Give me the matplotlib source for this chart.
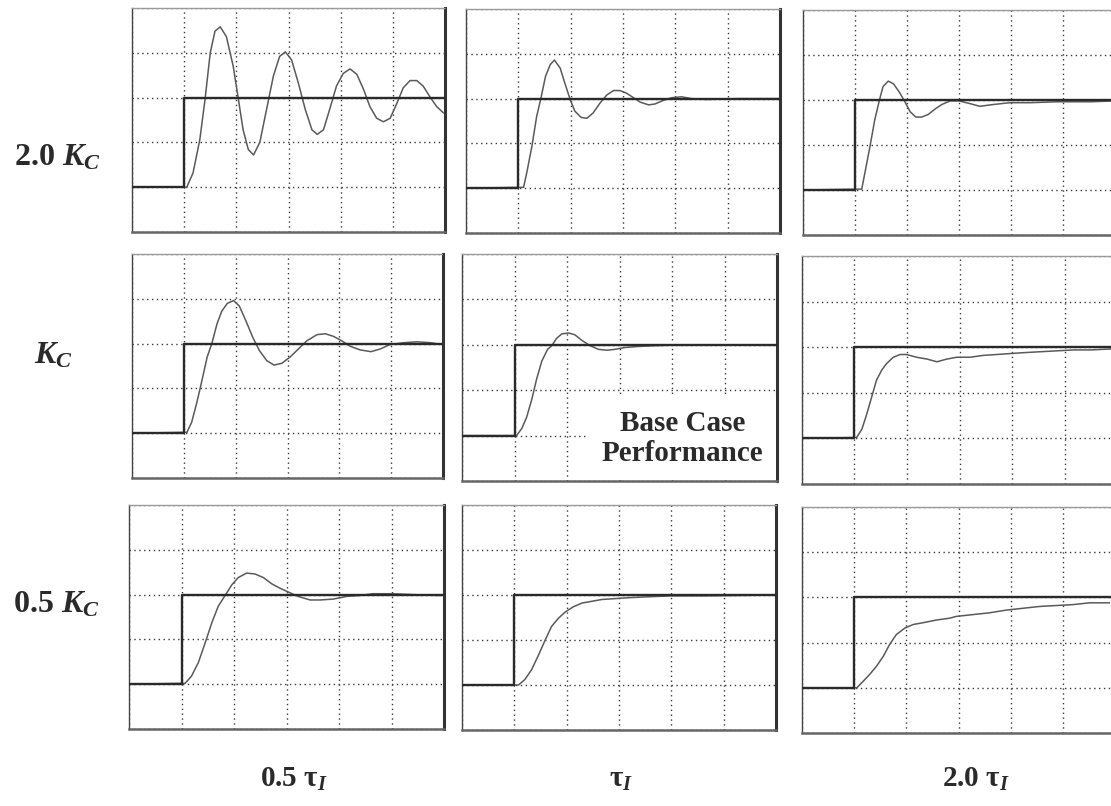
import matplotlib
matplotlib.use("Agg")
import matplotlib.pyplot as plt

plt.rcParams['mathtext.fontset'] = 'custom'
plt.rcParams['mathtext.rm'] = 'Liberation Serif:bold'
plt.rcParams['mathtext.it'] = 'Liberation Serif:italic:bold'
plt.rcParams['mathtext.bf'] = 'Liberation Serif:bold'

# ---------------- data (time in grid divisions, response normalised: 0 = start, 1 = set point)
setpoint_t = [0, 1, 1, 6]
setpoint_y = [0, 0, 1, 1]

row_labels = [r'$2.0\ K_C$', r'$K_C$', r'$0.5\ K_C$']
col_labels = [r'$0.5\ \mathrm{\tau}_I$', r'$\mathrm{\tau}_I$', r'$2.0\ \mathrm{\tau}_I$']

# 2.0 Kc
t_2kc_05ti = [0, 1.05, 1.17, 1.30, 1.40, 1.50, 1.59, 1.69, 1.81, 1.94, 2.04, 2.13, 2.23, 2.33, 2.45,
              2.58, 2.71, 2.83, 2.94, 3.06, 3.19, 3.32, 3.45, 3.55, 3.67, 3.79, 3.92, 4.05, 4.18, 4.31,
              4.44, 4.56, 4.69, 4.82, 4.95, 5.08, 5.20, 5.33, 5.46, 5.58, 5.71, 5.84, 5.97]
y_2kc_05ti = [0, 0.0, 0.16, 0.53, 0.98, 1.50, 1.74, 1.79, 1.68, 1.35, 0.98, 0.64, 0.42, 0.36, 0.50,
              0.87, 1.24, 1.46, 1.51, 1.42, 1.16, 0.87, 0.64, 0.59, 0.64, 0.87, 1.13, 1.27, 1.32, 1.26,
              1.09, 0.90, 0.77, 0.73, 0.77, 0.94, 1.11, 1.19, 1.19, 1.13, 1.01, 0.90, 0.83]
t_2kc_1ti = [0, 1.10, 1.16, 1.26, 1.35, 1.43, 1.52, 1.61, 1.69, 1.80, 1.89, 1.99, 2.08, 2.20, 2.31,
             2.43, 2.56, 2.69, 2.82, 2.94, 3.07, 3.20, 3.33, 3.49, 3.61, 3.77, 3.93, 4.12, 4.31, 4.6,
             5.2, 6.0]
y_2kc_1ti = [0, 0.01, 0.17, 0.47, 0.80, 1.0, 1.25, 1.38, 1.43, 1.34, 1.17, 0.99, 0.86, 0.79, 0.78,
             0.84, 0.95, 1.04, 1.09, 1.09, 1.06, 1.01, 0.96, 0.93, 0.94, 0.98, 1.01, 1.02, 1.0, 0.99,
             1.0, 1.0]
t_2kc_2ti = [0, 1.13, 1.19, 1.29, 1.38, 1.47, 1.54, 1.64, 1.74, 1.85, 1.96, 2.06, 2.17, 2.28, 2.41,
             2.54, 2.67, 2.83, 3.0, 3.21, 3.40, 3.66, 3.98, 4.37, 4.88, 5.52, 6.0]
y_2kc_2ti = [0, 0.01, 0.19, 0.49, 0.78, 1.0, 1.15, 1.21, 1.18, 1.09, 0.98, 0.87, 0.81, 0.81, 0.84,
             0.90, 0.95, 0.99, 0.99, 0.96, 0.93, 0.95, 0.97, 0.97, 0.98, 0.98, 0.99]

# Kc
t_kc_05ti = [0, 1.06, 1.15, 1.25, 1.35, 1.45, 1.54, 1.64, 1.73, 1.84, 1.96, 2.07, 2.20, 2.33, 2.46,
             2.60, 2.74, 2.89, 3.05, 3.21, 3.37, 3.57, 3.73, 3.89, 4.05, 4.21, 4.40, 4.61, 4.79, 4.98,
             5.24, 5.5, 5.76, 5.98]
y_kc_05ti = [0, 0.01, 0.12, 0.34, 0.59, 0.85, 1.0, 1.22, 1.36, 1.45, 1.48, 1.42, 1.25, 1.07, 0.92,
             0.81, 0.76, 0.78, 0.85, 0.94, 1.03, 1.10, 1.11, 1.08, 1.03, 0.97, 0.93, 0.91, 0.94, 0.99,
             1.01, 1.02, 1.01, 0.99]
t_kc_1ti = [0, 1.04, 1.14, 1.23, 1.33, 1.42, 1.52, 1.63, 1.71, 1.80, 1.90, 2.03, 2.15, 2.28, 2.44,
            2.60, 2.76, 2.91, 3.10, 3.32, 3.67, 4.2, 5.0, 6.0]
y_kc_1ti = [0, 0, 0.08, 0.20, 0.40, 0.62, 0.82, 0.95, 0.99, 1.07, 1.12, 1.13, 1.11, 1.05, 0.99,
            0.95, 0.94, 0.95, 0.97, 0.98, 0.99, 1.0, 1.0, 1.0]
t_kc_2ti = [0, 1.04, 1.14, 1.23, 1.33, 1.42, 1.52, 1.61, 1.74, 1.87, 1.99, 2.18, 2.38, 2.57, 2.76,
            2.95, 3.20, 3.45, 3.71, 3.96, 4.22, 4.53, 4.85, 5.17, 5.49, 5.87, 6.0]
y_kc_2ti = [0, 0.01, 0.10, 0.26, 0.46, 0.64, 0.75, 0.82, 0.89, 0.92, 0.92, 0.89, 0.87, 0.84, 0.87,
            0.89, 0.89, 0.91, 0.92, 0.93, 0.94, 0.95, 0.96, 0.97, 0.97, 0.98, 0.98]

# 0.5 Kc
t_05kc_05ti = [0, 1.07, 1.19, 1.32, 1.45, 1.58, 1.70, 1.83, 1.96, 2.08, 2.24, 2.40, 2.56, 2.72, 2.88,
               3.03, 3.22, 3.45, 3.64, 3.89, 4.15, 4.40, 4.65, 5.03, 5.41, 5.92]
y_05kc_05ti = [0, 0.01, 0.09, 0.24, 0.46, 0.69, 0.87, 0.99, 1.11, 1.19, 1.24, 1.23, 1.19, 1.12, 1.07,
               1.03, 0.98, 0.94, 0.94, 0.95, 0.98, 0.99, 1.01, 1.01, 1.0, 0.99]
t_05kc_1ti = [0, 1.08, 1.20, 1.33, 1.46, 1.59, 1.71, 1.84, 1.97, 2.13, 2.29, 2.48, 2.67, 2.93, 3.18,
              3.56, 4.0, 4.64, 6.0]
y_05kc_1ti = [0, 0, 0.06, 0.17, 0.33, 0.50, 0.65, 0.74, 0.81, 0.87, 0.91, 0.93, 0.95, 0.96, 0.97,
              0.98, 0.99, 0.99, 1.0]
t_05kc_2ti = [0, 1.05, 1.17, 1.30, 1.43, 1.56, 1.68, 1.81, 1.97, 2.13, 2.32, 2.58, 2.83, 2.96, 3.28,
              3.60, 3.92, 4.24, 4.56, 4.87, 5.19, 5.51, 5.89]
y_05kc_2ti = [0, 0, 0.07, 0.15, 0.24, 0.35, 0.48, 0.59, 0.66, 0.70, 0.72, 0.75, 0.77, 0.79, 0.81,
              0.83, 0.86, 0.88, 0.90, 0.91, 0.92, 0.94, 0.94]

responses = [
    [(t_2kc_05ti, y_2kc_05ti), (t_2kc_1ti, y_2kc_1ti), (t_2kc_2ti, y_2kc_2ti)],
    [(t_kc_05ti, y_kc_05ti), (t_kc_1ti, y_kc_1ti), (t_kc_2ti, y_kc_2ti)],
    [(t_05kc_05ti, y_05kc_05ti), (t_05kc_1ti, y_05kc_1ti), (t_05kc_2ti, y_05kc_2ti)],
]

# ---------------- layout (pixel boxes: left, top, right, bottom)
W, H = 1111, 806
boxes = [
    [(132, 8, 445, 232), (466, 9, 780, 233), (803, 10, 1115, 235)],
    [(132, 254, 443, 478), (462, 254, 777, 481), (802, 256, 1117, 484)],
    [(129, 505, 444, 729), (462, 505, 776, 730), (802, 507, 1115, 733)],
]

fig = plt.figure(figsize=(W / 100, H / 100), dpi=100)
fig.patch.set_facecolor('white')

for r in range(3):
    for c in range(3):
        l, t, rr, b = boxes[r][c]
        ax = fig.add_axes([l / W, 1 - b / H, (rr - l) / W, (b - t) / H])
        ax.set_xlim(0, 6)
        ax.set_ylim(-0.5, 2.0)
        ax.set_xticks(range(7))
        ax.set_yticks([-0.5, 0, 0.5, 1.0, 1.5, 2.0])
        ax.set_axisbelow(True)
        ax.grid(True, color='#3a3a3a', linestyle=(0, (1, 2.5)), linewidth=1.0)
        ax.tick_params(length=0, labelbottom=False, labelleft=False)
        ax.spines['top'].set_color('#9a9a9a')
        ax.spines['top'].set_linestyle((0, (1, 1)))
        ax.spines['top'].set_linewidth(1.0)
        ax.spines['left'].set_color('#444444')
        ax.spines['left'].set_linewidth(1.0)
        ax.spines['right'].set_color('#333333')
        ax.spines['right'].set_linewidth(2.2)
        ax.spines['bottom'].set_color('#666666')
        ax.spines['bottom'].set_linewidth(1.8)

        tt, yy = responses[r][c]
        ax.plot(tt, yy, color='#5a5a5a', linewidth=1.1, solid_joinstyle='round', zorder=3)
        ax.plot(setpoint_t, setpoint_y, color='#2a2a2a', linewidth=1.7, zorder=4)

        if r == 1 and c == 1:
            ax.text(4.2, -0.03, 'Base Case\nPerformance', ha='center', va='center',
                    fontsize=21, fontweight='bold', family='Liberation Serif', color='#2a2a2a',
                    linespacing=1.15, zorder=5,
                    bbox=dict(boxstyle='square,pad=0.45', facecolor='white', edgecolor='none'))

row_y = [157, 355, 604]
row_x = [57, 53, 56]
for lab, x, y in zip(row_labels, row_x, row_y):
    fig.text(x / W, 1 - y / H, lab, ha='center', va='center', fontsize=23, color='#2a2a2a')

col_x = [294, 621, 976]
for lab, x in zip(col_labels, col_x):
    fig.text(x / W, 1 - 779 / H, lab, ha='center', va='center', fontsize=21, color='#2a2a2a')

fig.savefig('out.png', dpi=100, facecolor='white')
